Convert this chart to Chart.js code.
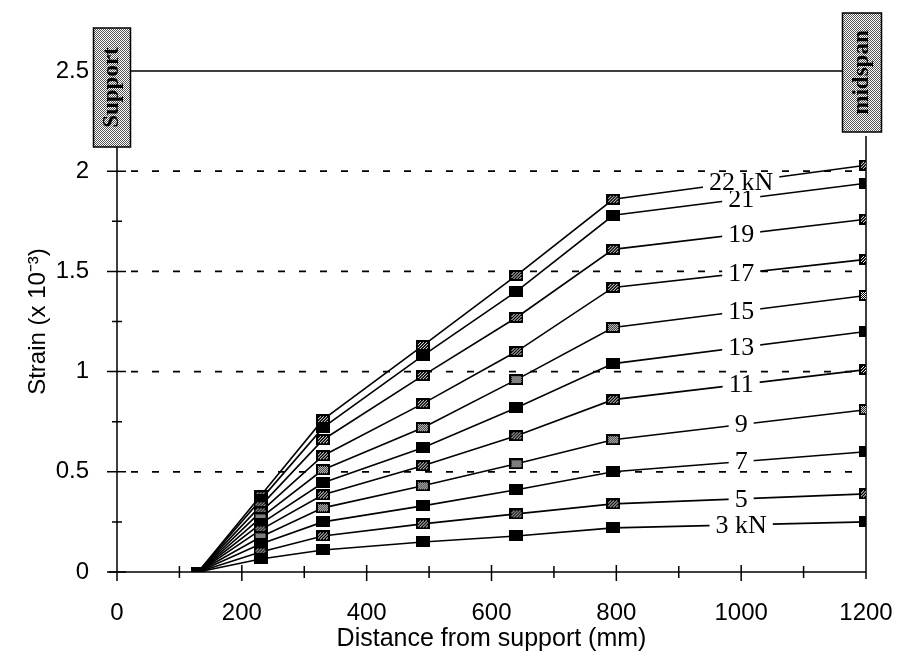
<!DOCTYPE html>
<html>
<head>
<meta charset="utf-8">
<script src="https://cdn.jsdelivr.net/npm/chart.js@4.4.0/dist/chart.umd.min.js"></script>
<style>
  html, body { margin: 0; padding: 0; background: #fff; }
</style>
</head>
<body>
<canvas id="strainChart" width="898" height="656"></canvas>
<script>
// distance from support (mm) of each gauge
var distances = [130, 230, 330, 490, 640, 795, 1200];

var loadLabels = ["3 kN", "5", "7", "9", "11", "13", "15", "17", "19", "21", "22 kN"];

// strain (x 10^-3) per load step
var strain3  = [0, 0.065, 0.11, 0.15, 0.18, 0.22, 0.25];
var strain5  = [0, 0.10, 0.18, 0.24, 0.29, 0.34, 0.39];
var strain7  = [0, 0.14, 0.25, 0.33, 0.41, 0.50, 0.60];
var strain9  = [0, 0.175, 0.32, 0.43, 0.54, 0.66, 0.81];
var strain11 = [0, 0.21, 0.385, 0.53, 0.68, 0.86, 1.01];
var strain13 = [0, 0.24, 0.445, 0.62, 0.82, 1.04, 1.20];
var strain15 = [0, 0.27, 0.51, 0.72, 0.96, 1.22, 1.38];
var strain17 = [0, 0.30, 0.58, 0.84, 1.10, 1.42, 1.56];
var strain19 = [0, 0.33, 0.66, 0.98, 1.27, 1.61, 1.76];
var strain21 = [0, 0.36, 0.72, 1.08, 1.40, 1.78, 1.94];
var strain22 = [0, 0.38, 0.76, 1.13, 1.48, 1.86, 2.03];

var allStrains = [strain3, strain5, strain7, strain9, strain11, strain13,
                  strain15, strain17, strain19, strain21, strain22];

var markerKinds = ["solid", "dots", "solid", "light", "dots", "solid",
                   "light", "dots", "dots", "solid", "dots"];

var xTickValues = [0, 200, 400, 600, 800, 1000, 1200];
var yTickValues = [0, 0.5, 1, 1.5, 2, 2.5];
var dashedLevels = [0.5, 1, 1.5, 2];

var labelAt = 1000;   // where the load labels sit on each line

function makeMarker(kind) {
  var c = document.createElement("canvas");
  c.width = 14; c.height = 11;
  var g = c.getContext("2d");
  g.fillStyle = "#000";
  g.fillRect(0, 0, 14, 11);
  if (kind !== "solid") {
    g.fillStyle = "#fff";
    for (var yy = 2; yy < 9; yy++) {
      for (var xx = 2; xx < 12; xx++) {
        var on = kind === "dots" ? ((xx + yy) % 3 === 0) : ((xx + yy) % 2 === 0);
        if (on) g.fillRect(xx, yy, 1, 1);
      }
    }
  }
  return c;
}

function makeStipple() {
  var c = document.createElement("canvas");
  c.width = 2; c.height = 2;
  var g = c.getContext("2d");
  g.fillStyle = "#fff"; g.fillRect(0, 0, 2, 2);
  g.fillStyle = "#555"; g.fillRect(0, 0, 1, 1); g.fillRect(1, 1, 1, 1);
  return c;
}

var markers = {
  solid: makeMarker("solid"),
  dots: makeMarker("dots"),
  light: makeMarker("light")
};

var datasets = allStrains.map(function (vals, i) {
  return {
    label: loadLabels[i],
    data: distances.map(function (d, j) { return { x: d, y: vals[j] }; }),
    borderColor: "#000",
    borderWidth: 1.6,
    pointStyle: markers[markerKinds[i]],
    pointRadius: 6,
    tension: 0
  };
});

function drawBox(ctx, cx, top, w, h, text, pattern) {
  ctx.save();
  ctx.fillStyle = pattern;
  ctx.fillRect(cx - w / 2, top, w, h);
  ctx.strokeStyle = "#000";
  ctx.lineWidth = 1.5;
  ctx.strokeRect(cx - w / 2, top, w, h);
  ctx.translate(cx, top + h / 2);
  ctx.rotate(-Math.PI / 2);
  ctx.fillStyle = "#000";
  ctx.font = 'bold 23px "Liberation Serif"';
  ctx.textAlign = "center";
  ctx.textBaseline = "middle";
  ctx.fillText(text, 0, 0);
  ctx.restore();
}

var framePlugin = {
  id: "frame",
  beforeDatasetsDraw: function (chart) {
    var ctx = chart.ctx, xs = chart.scales.x, ys = chart.scales.y;
    var x0 = xs.getPixelForValue(0), x1 = xs.getPixelForValue(1200);
    var y0 = ys.getPixelForValue(0), yTop = ys.getPixelForValue(2.5);
    ctx.save();
    ctx.strokeStyle = "#000";

    // dashed reference lines
    ctx.lineWidth = 1.8;
    ctx.setLineDash([7, 14]);
    dashedLevels.forEach(function (v) {
      var y = ys.getPixelForValue(v);
      ctx.beginPath(); ctx.moveTo(x0 + 14, y); ctx.lineTo(x1, y); ctx.stroke();
    });
    ctx.setLineDash([]);

    // axes
    ctx.lineWidth = 1.5;
    ctx.beginPath();
    ctx.moveTo(x0 - 8, y0); ctx.lineTo(x1, y0);
    ctx.moveTo(x0, yTop + 76); ctx.lineTo(x0, y0 + 9);
    ctx.moveTo(x1, yTop + 65); ctx.lineTo(x1, y0 + 7);
    ctx.moveTo(x0, yTop); ctx.lineTo(x1, yTop);
    ctx.stroke();

    // tick marks
    ctx.beginPath();
    for (var v = 0; v <= 2.4; v += 0.25) {
      var y = ys.getPixelForValue(v);
      var major = Math.abs(v * 2 - Math.round(v * 2)) < 1e-6;
      ctx.moveTo(x0 - (major ? 10 : 5), y); ctx.lineTo(x0 + (major ? 9 : 5), y);
    }
    for (var d = 100; d < 1200; d += 100) {
      var x = xs.getPixelForValue(d);
      var maj = d % 200 === 0;
      ctx.moveTo(x, y0 - (maj ? 7 : 6)); ctx.lineTo(x, y0 + (maj ? 9 : 6));
    }
    ctx.stroke();
    ctx.restore();
  },
  afterDatasetsDraw: function (chart) {
    var ctx = chart.ctx, xs = chart.scales.x, ys = chart.scales.y;
    ctx.save();
    ctx.font = '26px "Liberation Serif"';
    ctx.textAlign = "center";
    ctx.textBaseline = "middle";
    var lx = xs.getPixelForValue(labelAt);
    chart.data.datasets.forEach(function (ds, i) {
      var pts = chart.getDatasetMeta(i).data;
      var a = pts[pts.length - 2], b = pts[pts.length - 1];
      var t = (lx - a.x) / (b.x - a.x);
      var ly = a.y + t * (b.y - a.y);
      var w = ctx.measureText(ds.label).width;
      ctx.fillStyle = "#fff";
      ctx.fillRect(lx - w / 2 - 6, ly - 9, w + 12, 18);
      ctx.fillStyle = "#000";
      ctx.fillText(ds.label, lx, ly + 1);
    });
    ctx.restore();

    var stipple = ctx.createPattern(makeStipple(), "repeat");
    var yTop = ys.getPixelForValue(2.5);
    drawBox(ctx, xs.getPixelForValue(0) - 5, yTop - 43, 37, 119, "Support", stipple);
    drawBox(ctx, xs.getPixelForValue(1200) - 4, yTop - 58, 39, 119, "midspan", stipple);
  }
};

Chart.defaults.color = "#000";

new Chart("strainChart", {
  type: "line",
  data: { datasets: datasets },
  options: {
    responsive: false,
    animation: false,
    layout: { padding: { top: 71, right: 32, left: 0, bottom: 0 } },
    plugins: { legend: { display: false }, tooltip: { enabled: false } },
    scales: {
      x: {
        type: "linear",
        min: 0,
        max: 1200,
        afterBuildTicks: function (s) { s.ticks = xTickValues.map(function (v) { return { value: v }; }); },
        afterFit: function (s) { s.height = 84; s.paddingLeft = 0; s.paddingRight = 0; },
        grid: { display: false, drawTicks: false },
        border: { display: false },
        ticks: {
          padding: 27,
          maxRotation: 0,
          autoSkip: false,
          font: { family: '"Liberation Sans"', size: 24 },
          callback: function (v) { return String(v); }
        },
        title: {
          display: true,
          text: "Distance from support (mm)",
          font: { family: '"Liberation Sans"', size: 25 },
          padding: { top: 0, bottom: 2 }
        }
      },
      y: {
        min: 0,
        max: 2.5,
        afterBuildTicks: function (s) { s.ticks = yTickValues.map(function (v) { return { value: v }; }); },
        afterFit: function (s) { s.width = 117; s.paddingTop = 0; s.paddingBottom = 0; },
        grid: { display: false, drawTicks: false },
        border: { display: false },
        ticks: {
          padding: 28,
          font: { family: '"Liberation Sans"', size: 24 },
          callback: function (v) { return String(v); }
        },
        title: {
          display: true,
          text: "Strain (x 10\u207B\u00B3)",
          font: { family: '"Liberation Sans"', size: 24 },
          padding: { top: 24, bottom: 0 }
        }
      }
    }
  },
  plugins: [framePlugin]
});
</script>
</body>
</html>
